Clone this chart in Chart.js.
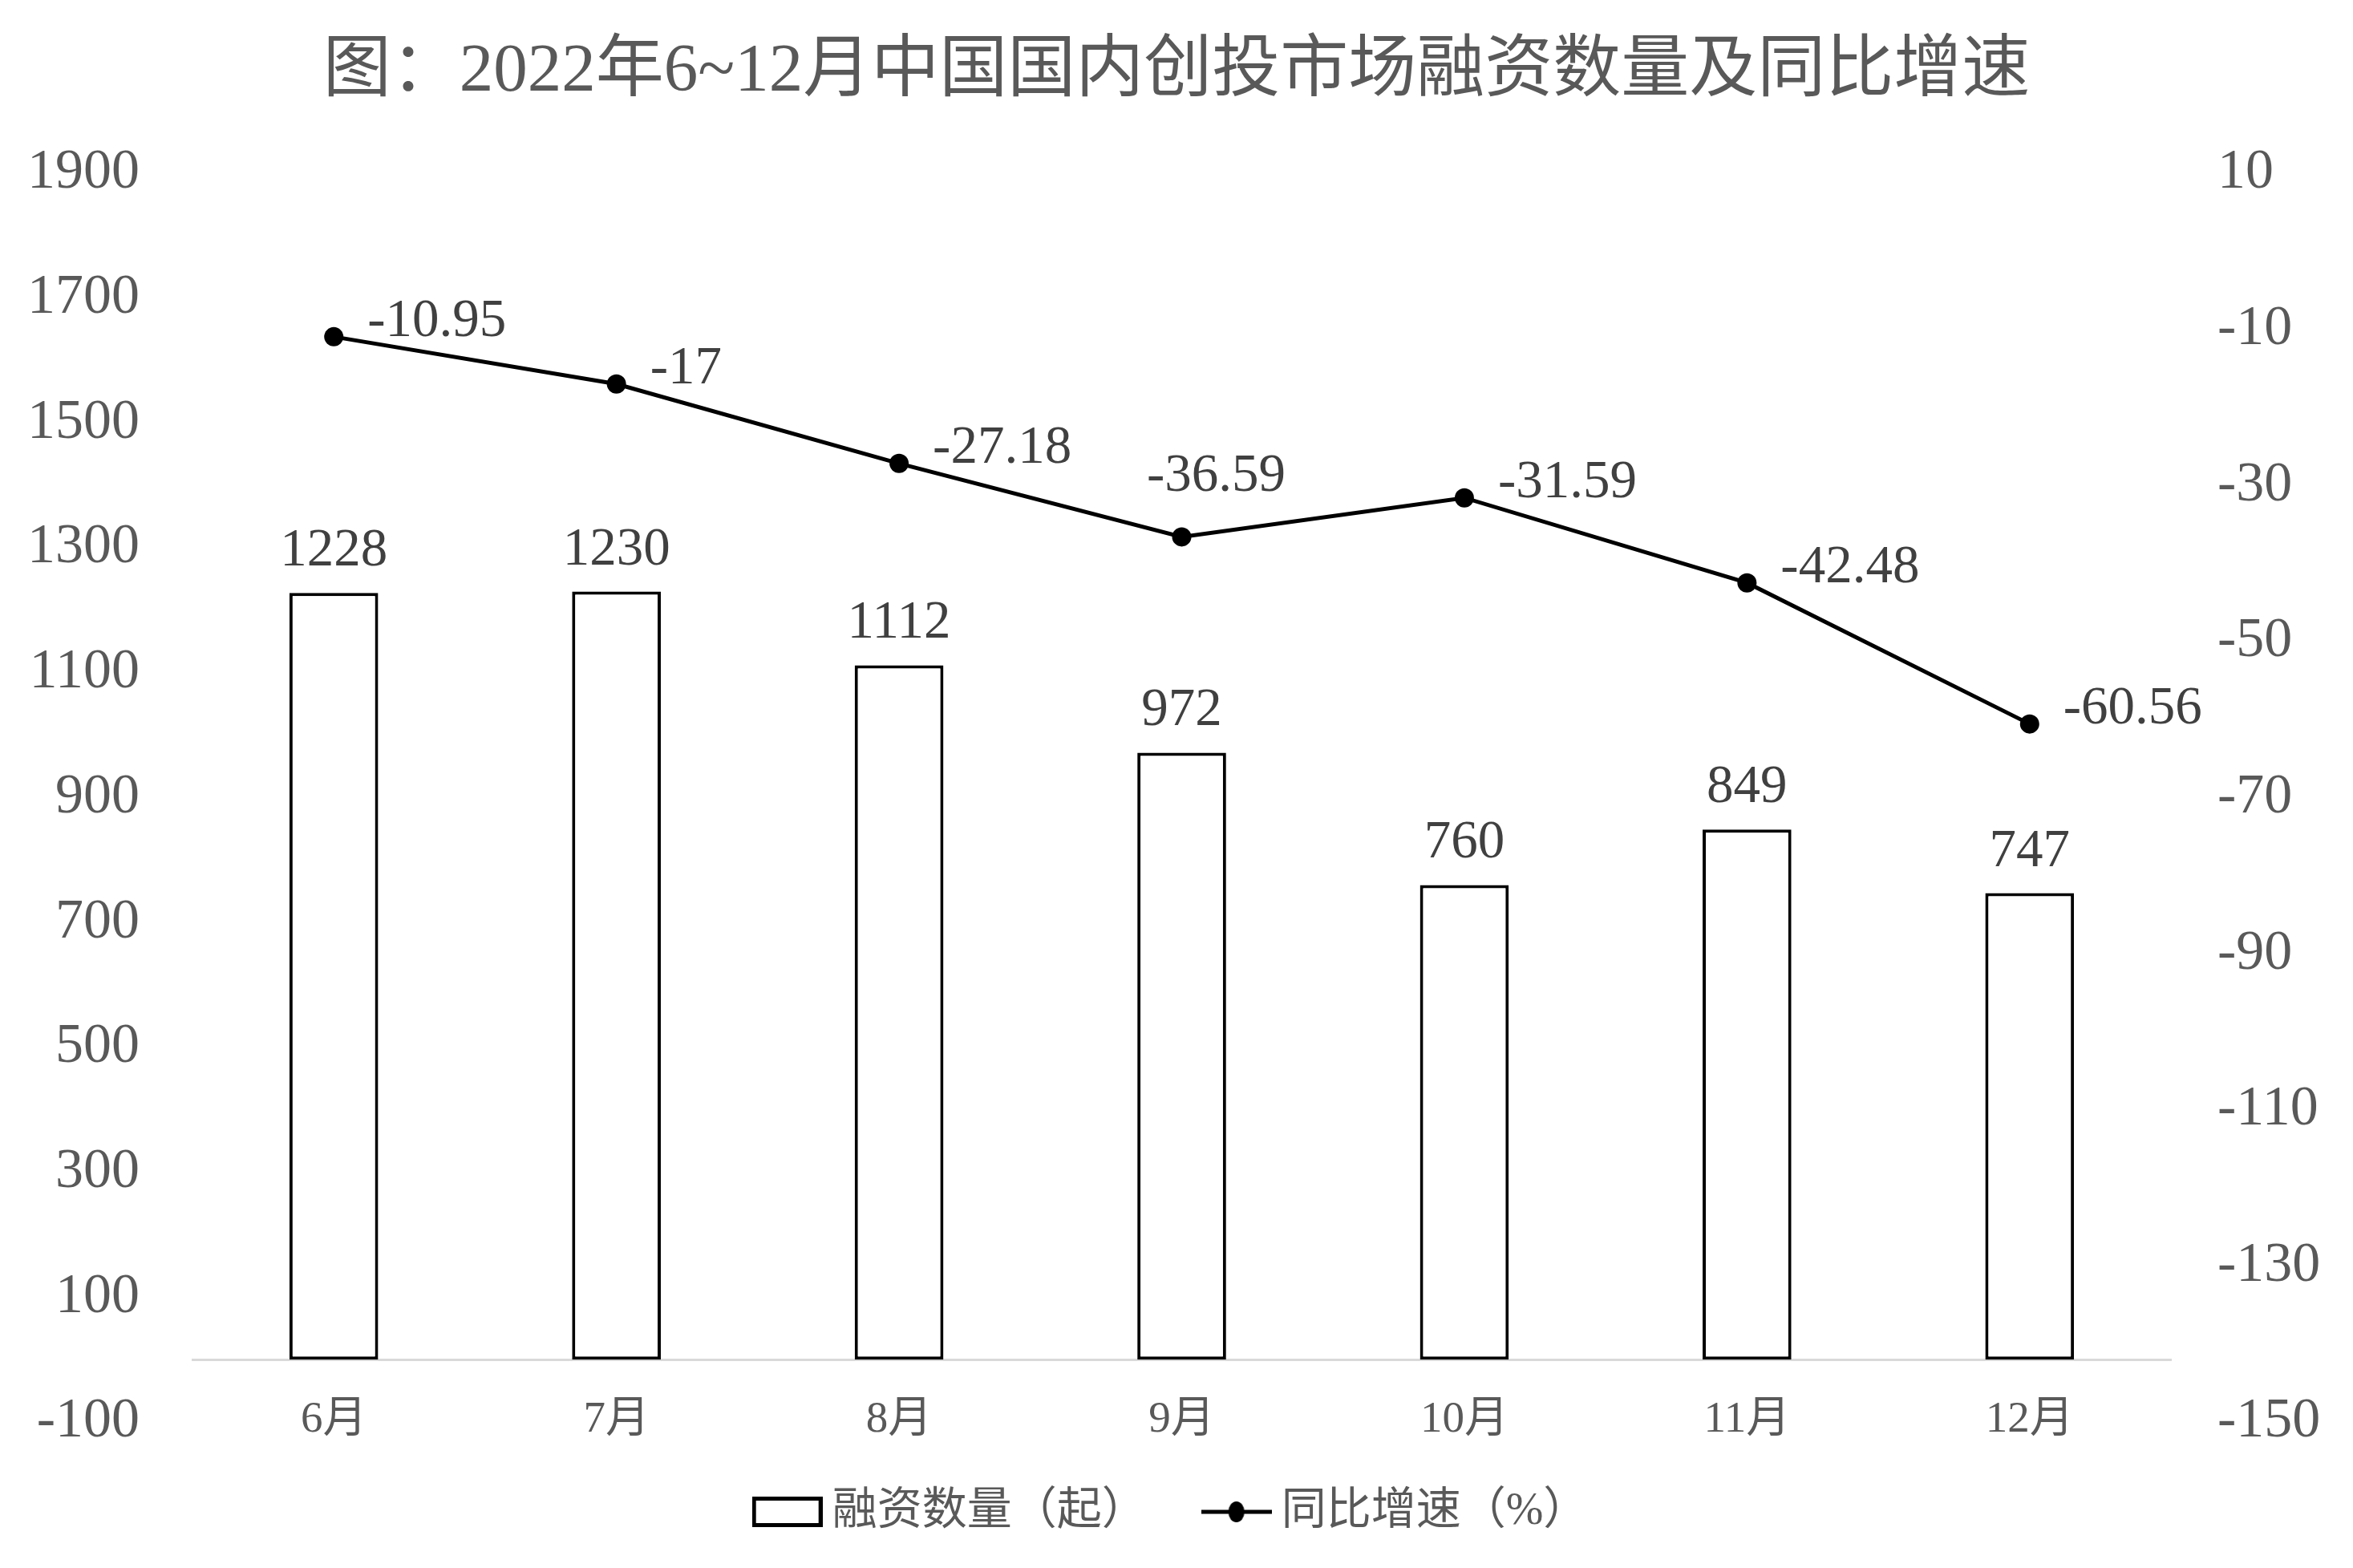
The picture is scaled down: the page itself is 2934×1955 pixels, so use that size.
<!DOCTYPE html>
<html>
<head>
<meta charset="utf-8">
<script src="https://cdn.jsdelivr.net/npm/chart.js@4.4.1/dist/chart.umd.min.js"></script>
<style>
  html, body { margin: 0; padding: 0; background: #fff; }
  #wrap { width: 2934px; height: 1955px; }
</style>
</head>
<body>
<div id="wrap"><canvas id="chart"></canvas></div>
<script>
// Data
const months = ["6月", "7月", "8月", "9月", "10月", "11月", "12月"];
const dealCounts = [1228, 1230, 1112, 972, 760, 849, 747];
const yoyGrowth = [-10.95, -17, -27.18, -36.59, -31.59, -42.48, -60.56];

// Axis ranges / tick steps
const leftTicks = { min: -100, max: 1900, step: 200 };
const rightTicks = { min: -150, max: 10, step: 20 };

const FONT = '"Liberation Serif", "Noto Sans CJK SC", serif';
const TICK_COLOR = "#595959";
const LABEL_COLOR = "#404040";

// Legend markers drawn as small canvases
function makeBarMarker() {
  const c = document.createElement("canvas");
  c.width = 88;
  c.height = 38;
  const g = c.getContext("2d");
  g.fillStyle = "#fff";
  g.fillRect(0, 0, 88, 38);
  g.strokeStyle = "#000";
  g.lineWidth = 5;
  g.strokeRect(2.5, 2.5, 83, 33);
  return c;
}

function makeLineMarker() {
  const c = document.createElement("canvas");
  c.width = 88;
  c.height = 30;
  const g = c.getContext("2d");
  g.strokeStyle = "#000";
  g.lineWidth = 5;
  g.beginPath();
  g.moveTo(0, 15);
  g.lineTo(88, 15);
  g.stroke();
  g.fillStyle = "#000";
  g.beginPath();
  g.ellipse(44, 15, 10, 13, 0, 0, Math.PI * 2);
  g.fill();
  return c;
}

// Value labels above bars and beside line points
const valueLabels = {
  id: "valueLabels",
  afterDatasetsDraw(chart) {
    const ctx = chart.ctx;
    ctx.save();
    ctx.font = "67px " + FONT;
    ctx.fillStyle = LABEL_COLOR;

    const barMeta = chart.getDatasetMeta(0);
    ctx.textAlign = "center";
    ctx.textBaseline = "alphabetic";
    barMeta.data.forEach(function (bar, i) {
      ctx.fillText(String(dealCounts[i]), bar.x, bar.y - 34);
    });

    const lineMeta = chart.getDatasetMeta(1);
    lineMeta.data.forEach(function (pt, i) {
      const text = String(yoyGrowth[i]);
      if (i === 3) {
        // this one sits above its point
        ctx.textAlign = "center";
        ctx.textBaseline = "middle";
        ctx.fillText(text, pt.x + 43, pt.y - 75);
      } else {
        ctx.textAlign = "left";
        ctx.textBaseline = "middle";
        ctx.fillText(text, pt.x + 42, pt.y - 18);
      }
    });
    ctx.restore();
  },
};

const barMarker = makeBarMarker();
const lineMarker = makeLineMarker();

new Chart(document.getElementById("chart"), {
  type: "bar",
  data: {
    labels: months,
    datasets: [
      {
        type: "bar",
        label: "融资数量（起）",
        data: dealCounts,
        yAxisID: "y",
        backgroundColor: "#ffffff",
        borderColor: "#000000",
        borderWidth: 4,
        borderSkipped: false,
        barPercentage: 0.314,
        categoryPercentage: 1,
      },
      {
        type: "line",
        label: "同比增速（%）",
        data: yoyGrowth,
        yAxisID: "y1",
        borderColor: "#000000",
        backgroundColor: "#000000",
        borderWidth: 5,
        pointRadius: 12,
        pointBackgroundColor: "#000000",
        pointBorderWidth: 0,
        tension: 0,
      },
    ],
  },
  options: {
    responsive: true,
    maintainAspectRatio: false,
    animation: false,
    devicePixelRatio: 1,
    layout: {
      padding: { top: 0, bottom: 32, left: 0, right: 0 },
    },
    plugins: {
      title: {
        display: true,
        text: "图：2022年6~12月中国国内创投市场融资数量及同比增速",
        color: TICK_COLOR,
        font: { family: FONT, size: 85, weight: "normal" },
        padding: { top: 40, bottom: 74 },
      },
      legend: {
        display: true,
        position: "bottom",
        labels: {
          color: TICK_COLOR,
          font: { family: FONT, size: 56 },
          usePointStyle: true,
          pointStyleWidth: 56,
          padding: 84,
          generateLabels: function (chart) {
            const items = Chart.defaults.plugins.legend.labels.generateLabels(chart);
            items.sort(function (a, b) {
              return a.datasetIndex - b.datasetIndex;
            });
            items.forEach(function (item) {
              item.pointStyle = item.datasetIndex === 0 ? barMarker : lineMarker;
            });
            return items;
          },
        },
      },
      tooltip: { enabled: false },
    },
    scales: {
      x: {
        position: { y: 0 },
        grid: { display: false, drawTicks: false },
        border: { display: true, color: "#d9d9d9", width: 3 },
        ticks: {
          color: TICK_COLOR,
          font: { family: FONT, size: 55 },
          padding: 42,
          maxRotation: 0,
        },
        afterFit: function (scale) {
          scale.height = 0;
        },
      },
      y: {
        position: "left",
        min: leftTicks.min,
        max: leftTicks.max,
        grid: { display: false, drawTicks: false },
        border: { display: false },
        ticks: {
          stepSize: leftTicks.step,
          color: TICK_COLOR,
          font: { family: FONT, size: 70 },
          padding: 66,
          callback: function (v) {
            return String(v);
          },
        },
        afterFit: function (scale) {
          scale.width = 240;
        },
      },
      y1: {
        position: "right",
        min: rightTicks.min,
        max: rightTicks.max,
        grid: { display: false, drawTicks: false },
        border: { display: false },
        ticks: {
          stepSize: rightTicks.step,
          color: TICK_COLOR,
          font: { family: FONT, size: 70 },
          padding: 58,
          callback: function (v) {
            return String(v);
          },
        },
        afterFit: function (scale) {
          scale.width = 227;
        },
      },
    },
  },
  plugins: [valueLabels],
});
</script>
</body>
</html>
